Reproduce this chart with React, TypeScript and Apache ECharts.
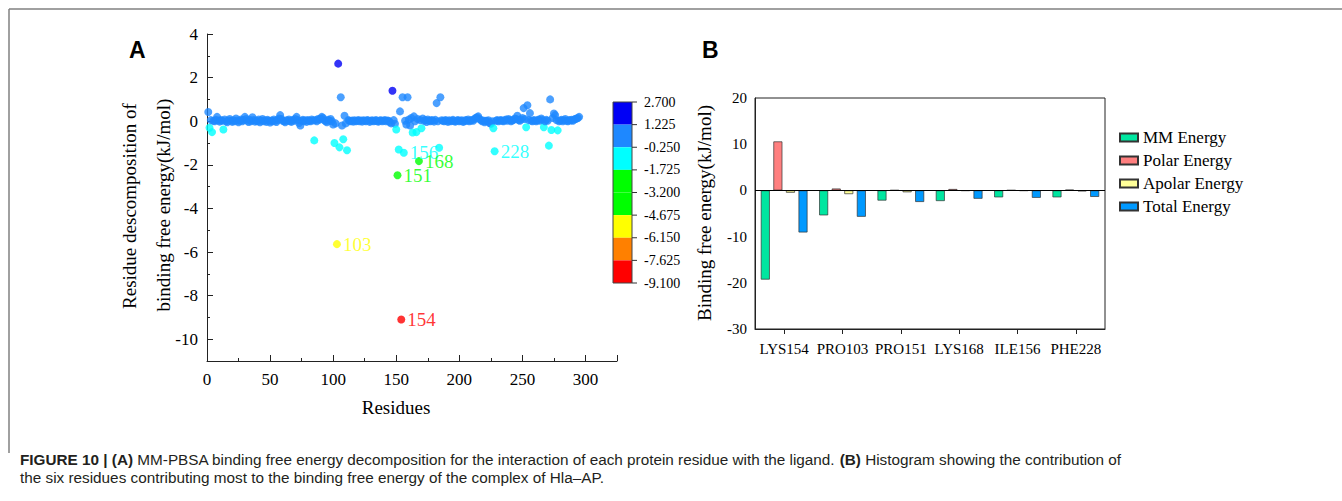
import React, { useEffect, useRef } from 'react';
import * as echarts from 'echarts';

// ---------- Panel A data: per-residue decomposition energy (residues 1..295) ----------
const residueEnergy: number[] = [
  // 1-10
  0.42, -0.30, 0.05, -0.50, 0.02, 0.00, 0.06, 0.20, 0.03, -0.02,
  // 11-20
  0.05, 0.02, -0.38, 0.08, 0.00, -0.05, 0.03, 0.10, 0.02, -0.03,
  // 21-30
  0.04, 0.00, 0.12, 0.03, -0.05, 0.02, 0.08, 0.00, 0.05, 0.20,
  // 31-40
  0.10, 0.02, -0.04, 0.06, 0.00, 0.18, 0.05, -0.02, 0.03, 0.00,
  // 41-50
  0.08, -0.05, 0.02, 0.10, 0.00, 0.04, -0.03, 0.06, 0.02, -0.06,
  // 51-60
  0.03, 0.00, 0.08, 0.02, -0.04, 0.05, 0.12, 0.28, 0.10, 0.02,
  // 61-70
  0.00, -0.05, 0.04, 0.02, 0.08, 0.00, -0.03, 0.06, 0.02, 0.10,
  // 71-80
  0.20, 0.05, -0.08, -0.20, 0.02, 0.06, 0.00, 0.04, -0.03, 0.05,
  // 81-90
  0.02, 0.00, 0.08, 0.03, -0.88, 0.05, 0.00, 0.10, 0.06, 0.12,
  // 91-100
  0.20, 0.15, 0.04, 0.00, -0.05, 0.06, 0.02, 0.10, 0.00, -0.15,
  // 101-110
  -1.00, -0.10, -5.64, 2.64, -1.20, 1.10, -0.20, -0.83, 0.25, -0.10,
  // 111-120
  -1.33, 0.05, 0.02, 0.00, 0.03, -0.02, 0.04, 0.00, 0.02, 0.05,
  // 121-130
  0.00, 0.03, -0.02, 0.04, 0.02, 0.00, 0.05, 0.03, -0.03, 0.02,
  // 131-140
  0.04, 0.00, 0.02, 0.05, 0.00, -0.02, 0.03, 0.04, 0.00, 0.02,
  // 141-150
  0.05, 0.00, 0.03, 0.02, -0.05, -0.10, 1.40, 0.05, -0.12, -0.38,
  // 151-160
  -2.48, -1.30, 0.45, -9.10, 1.10, -1.45, 0.02, -0.15, 1.10, 0.08,
  // 161-170
  -0.20, 0.15, -0.52, 0.22, 0.00, -0.50, 0.10, -1.83, 0.05, -0.32,
  // 171-180
  0.12, 0.02, 0.05, -0.04, 0.08, 0.02, 0.00, 0.05, 0.03, -0.02,
  // 181-190
  0.06, 0.83, 0.00, -1.22, 1.10, 0.04, 0.02, 0.00, 0.05, 0.02,
  // 191-200
  -0.03, 0.04, 0.00, 0.02, 0.06, 0.00, -0.02, 0.03, 0.05, 0.00,
  // 201-210
  0.02, 0.04, -0.03, 0.00, 0.05, 0.02, 0.08, 0.00, 0.03, 0.05,
  // 211-220
  0.02, 0.10, 0.15, 0.18, 0.22, 0.10, 0.05, 0.00, 0.03, -0.05,
  // 221-230
  0.02, 0.00, 0.04, -0.08, -0.12, 0.00, -0.32, -1.38, 0.02, 0.05,
  // 231-240
  0.00, 0.03, 0.05, 0.02, 0.00, 0.04, 0.08, 0.02, 0.10, 0.05,
  // 241-250
  0.00, 0.03, 0.06, 0.12, 0.10, 0.25, 0.05, 0.02, 0.08, 0.15,
  // 251-260
  0.60, 0.10, -0.28, 0.73, 0.05, 0.37, 0.02, 0.00, 0.05, 0.03,
  // 261-270
  0.00, 0.04, 0.08, 0.02, 0.12, 0.05, -0.28, 0.00, 0.06, 0.02,
  // 271-280
  -1.12, 1.00, -0.40, 0.15, 0.35, 0.28, 0.05, -0.42, 0.00, 0.03,
  // 281-290
  0.06, 0.00, 0.04, 0.10, 0.02, 0.00, 0.05, 0.03, 0.06, 0.02,
  // 291-295
  0.08, 0.10, 0.12, 0.15, 0.20,
];
const firstResidue = 1;
const labeledResidues: number[] = [103, 151, 154, 156, 168, 228];

// colour scale (top -> bottom)
const colorbarTicks: string[] = ['2.700', '1.225', '-0.250', '-1.725', '-3.200', '-4.675', '-6.150', '-7.625', '-9.100'];
const bandColors: string[] = ['#0000F5', '#1E88FF', '#00FFFF', '#00FF00', '#00FF00', '#FFFF00', '#FF8000', '#FF0000'];

// ---------- Panel B data ----------
const residueNames: string[] = ['LYS154', 'PRO103', 'PRO151', 'LYS168', 'ILE156', 'PHE228'];
const mmEnergy: number[] = [-19.3, -5.4, -2.2, -2.3, -1.5, -1.5];
const polarEnergy: number[] = [10.6, 0.4, 0.05, 0.3, 0.05, 0.15];
const apolarEnergy: number[] = [-0.5, -0.8, -0.4, -0.1, -0.1, -0.2];
const totalEnergy: number[] = [-9.1, -5.7, -2.5, -1.8, -1.6, -1.4];
const seriesNames: string[] = ['MM Energy', 'Polar Energy', 'Apolar Energy', 'Total Energy'];
const seriesColors: string[] = ['#00E6A0', '#FF7F7F', '#FFFF99', '#0099FF'];

const captionLine1 =
  '{b|FIGURE 10 | (A)} MM-PBSA binding free energy decomposition for the interaction of each protein residue with the ligand. {b|(B)} Histogram showing the contribution of';
const captionLine2 = 'the six residues contributing most to the binding free energy of the complex of Hla–AP.';

const SERIF = '"Liberation Serif", "Times New Roman", serif';
const SANS = '"Liberation Sans", Arial, Helvetica, sans-serif';

function colorFor(v: number): string {
  for (let i = 0; i < bandColors.length; i++) {
    const lower = Number(colorbarTicks[i + 1]);
    if (v >= lower || i === bandColors.length - 1) return bandColors[i];
  }
  return bandColors[bandColors.length - 1];
}

export default function App() {
  const ref = useRef<HTMLDivElement>(null);

  useEffect(() => {
    if (!ref.current) return;
    const chart = echarts.init(ref.current, undefined, { renderer: 'svg' });

    const scatterData = residueEnergy.map((v, i) => {
      const r = i + firstResidue;
      if (labeledResidues.includes(r)) {
        return {
          value: [r, v],
          label: {
            show: true,
            formatter: String(r),
            position: 'right',
            distance: 2,
            color: colorFor(v),
            fontFamily: SERIF,
            fontSize: 19,
          },
        };
      }
      return { value: [r, v] };
    });

    const pieces = bandColors.map((c, i) => {
      const top = Number(colorbarTicks[i]);
      const bottom = Number(colorbarTicks[i + 1]);
      const p: any = { color: c };
      if (i !== 0) p.lt = top;
      if (i !== bandColors.length - 1) p.gte = bottom;
      return p;
    });

    // colorbar (legend of the visual map)
    const CB = { x: 613, y: 102, w: 19, h: 181 };
    const bandH = CB.h / bandColors.length;
    const colorbar: any[] = [];
    bandColors.forEach((c, i) => {
      colorbar.push({
        type: 'rect',
        shape: { x: CB.x, y: CB.y + i * bandH, width: CB.w, height: bandH },
        style: { fill: c },
      });
    });
    colorbar.push({
      type: 'rect',
      shape: { x: CB.x, y: CB.y, width: CB.w, height: CB.h },
      style: { fill: 'none', stroke: '#444', lineWidth: 1 },
    });
    colorbarTicks.forEach((t, i) => {
      const yy = CB.y + i * bandH;
      colorbar.push({
        type: 'line',
        shape: { x1: CB.x + CB.w, y1: yy, x2: CB.x + CB.w + 5, y2: yy },
        style: { stroke: '#333', lineWidth: 1 },
      });
      colorbar.push({
        type: 'text',
        x: CB.x + CB.w + 12,
        y: yy,
        style: { text: t, fontFamily: SERIF, fontSize: 14, fill: '#000', align: 'left', verticalAlign: 'middle' },
      });
    });

    const barSeries = [mmEnergy, polarEnergy, apolarEnergy, totalEnergy].map((d, i) => {
      const s: any = {
        name: seriesNames[i],
        type: 'bar',
        xAxisIndex: 1,
        yAxisIndex: 1,
        data: d,
        barGap: '40%',
        barCategoryGap: '20%',
        itemStyle: { color: seriesColors[i], borderColor: '#333', borderWidth: 0.7 },
      };
      if (i === 0) {
        s.markLine = {
          silent: true,
          symbol: 'none',
          label: { show: false },
          lineStyle: { color: '#000', width: 1, type: 'solid' },
          data: [{ yAxis: 0 }],
        };
      }
      return s;
    });

    const option: any = {
      animation: false,
      backgroundColor: '#fff',
      grid: [
        { left: 207, top: 34, width: 410, height: 327 },
        {
          left: 755,
          top: 98,
          width: 350,
          height: 231,
          show: true,
          borderColor: '#222',
          borderWidth: 1,
          backgroundColor: 'transparent',
        },
      ],
      xAxis: [
        {
          type: 'value',
          gridIndex: 0,
          min: 0,
          max: 325,
          interval: 50,
          axisLine: { show: true, onZero: false, lineStyle: { color: '#222', width: 1 } },
          axisTick: { show: true, inside: true, length: 6, lineStyle: { color: '#222' } },
          minorTick: { show: true, splitNumber: 2, length: 3, lineStyle: { color: '#222' } },
          splitLine: { show: false },
          axisLabel: { showMaxLabel: false, fontFamily: SERIF, fontSize: 17, color: '#000', margin: 10 },
        },
        {
          type: 'category',
          gridIndex: 1,
          data: residueNames,
          axisLine: { show: true, onZero: false, lineStyle: { color: '#222', width: 1 } },
          axisTick: { show: true, alignWithLabel: true, length: 5, lineStyle: { color: '#222' } },
          axisLabel: { fontFamily: SERIF, fontSize: 15, color: '#000', margin: 12, interval: 0 },
          splitLine: { show: false },
        },
      ],
      yAxis: [
        {
          type: 'value',
          gridIndex: 0,
          min: -11,
          max: 4,
          minInterval: 2,
          maxInterval: 2,
          splitNumber: 7,
          axisLine: { show: true, onZero: false, lineStyle: { color: '#222', width: 1 } },
          axisTick: { show: true, inside: true, length: 6, lineStyle: { color: '#222' } },
          minorTick: { show: true, splitNumber: 2, length: 3, lineStyle: { color: '#222' } },
          splitLine: { show: false },
          axisLabel: { showMinLabel: false, fontFamily: SERIF, fontSize: 17, color: '#000', margin: 9 },
        },
        {
          type: 'value',
          gridIndex: 1,
          min: -30,
          max: 20,
          interval: 10,
          axisLine: { show: true, onZero: false, lineStyle: { color: '#222', width: 1 } },
          axisTick: { show: false },
          splitLine: { show: false },
          axisLabel: { fontFamily: SERIF, fontSize: 15, color: '#000', margin: 8 },
        },
      ],
      visualMap: {
        type: 'piecewise',
        show: false,
        seriesIndex: 0,
        dimension: 1,
        pieces,
      },
      legend: {
        data: seriesNames,
        orient: 'vertical',
        left: 1114,
        top: 124,
        itemWidth: 18,
        itemHeight: 8,
        itemGap: 6,
        icon: 'rect',
        selectedMode: false,
        textStyle: { fontFamily: SERIF, fontSize: 17, color: '#000' },
      },
      series: [
        {
          type: 'scatter',
          xAxisIndex: 0,
          yAxisIndex: 0,
          symbolSize: 8,
          data: scatterData,
        },
        ...barSeries,
      ],
      graphic: [
        // outer frame
        { type: 'line', shape: { x1: 9, y1: 9, x2: 1342, y2: 9 }, style: { stroke: '#808080', lineWidth: 1.5 } },
        { type: 'line', shape: { x1: 9, y1: 9, x2: 9, y2: 453 }, style: { stroke: '#808080', lineWidth: 1.5 } },
        // panel letters
        {
          type: 'text',
          x: 129,
          y: 38,
          style: { text: 'A', fontFamily: SANS, fontWeight: 'bold', fontSize: 23, fill: '#000' },
        },
        {
          type: 'text',
          x: 702,
          y: 38,
          style: { text: 'B', fontFamily: SANS, fontWeight: 'bold', fontSize: 23, fill: '#000' },
        },
        // Panel A axis titles
        {
          type: 'text',
          x: 129,
          y: 206,
          rotation: Math.PI / 2,
          style: {
            text: 'Residue descomposition of',
            fontFamily: SERIF,
            fontSize: 19,
            fill: '#000',
            align: 'center',
            verticalAlign: 'middle',
          },
        },
        {
          type: 'text',
          x: 163,
          y: 205,
          rotation: Math.PI / 2,
          style: {
            text: 'binding free energy(kJ/mol)',
            fontFamily: SERIF,
            fontSize: 19,
            fill: '#000',
            align: 'center',
            verticalAlign: 'middle',
          },
        },
        {
          type: 'text',
          x: 396,
          y: 407,
          style: { text: 'Residues', fontFamily: SERIF, fontSize: 19, fill: '#000', align: 'center', verticalAlign: 'middle' },
        },
        // Panel B axis title
        {
          type: 'text',
          x: 704,
          y: 213,
          rotation: Math.PI / 2,
          style: {
            text: 'Binding free energy(kJ/mol)',
            fontFamily: SERIF,
            fontSize: 19,
            fill: '#000',
            align: 'center',
            verticalAlign: 'middle',
          },
        },
        ...colorbar,
        // caption
        {
          type: 'text',
          x: 20,
          y: 459,
          style: {
            text: captionLine1,
            fontFamily: SANS,
            fontSize: 15.3,
            fill: '#231F20',
            verticalAlign: 'middle',
            rich: { b: { fontFamily: SANS, fontSize: 15.3, fontWeight: 'bold', fill: '#231F20' } },
          },
        },
        {
          type: 'text',
          x: 20,
          y: 477,
          style: { text: captionLine2, fontFamily: SANS, fontSize: 15.3, fill: '#231F20', verticalAlign: 'middle' },
        },
      ],
    };

    chart.setOption(option);
    return () => chart.dispose();
  }, []);

  return (
    <div
      ref={ref}
      style={{ position: 'absolute', left: 0, top: 0, width: 1342, height: 501, background: '#fff' }}
    />
  );
}
